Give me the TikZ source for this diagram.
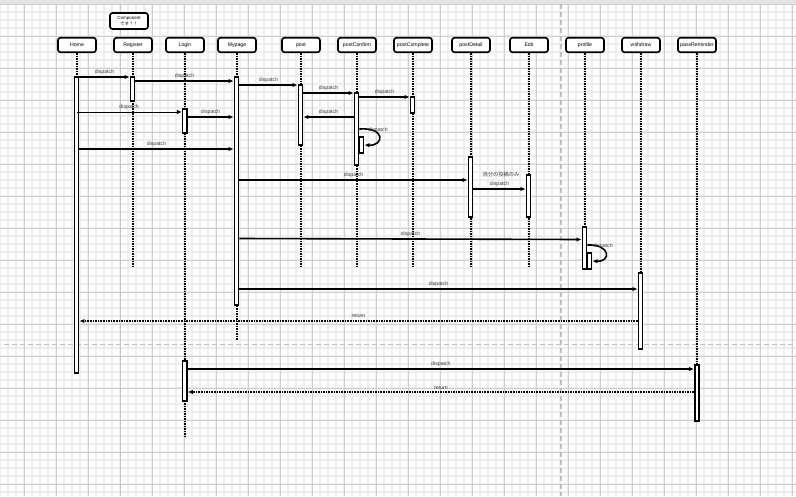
\documentclass[tikz,border=0pt]{standalone}
\usepackage{fontspec}
\setmainfont{Liberation Sans}
\newfontfamily\cjk{Noto Sans CJK JP}
\usetikzlibrary{arrows.meta}
\definecolor{minorgrid}{HTML}{EEEEEE}
\definecolor{majorgrid}{HTML}{CFCFCF}
\definecolor{sepgray}{HTML}{C0C0C0}
\definecolor{topbar}{HTML}{E4E4E4}
\begin{document}
\begin{tikzpicture}[x=1pt,y=-1pt,
  hdr/.style={draw, line width=1.6pt, rounded corners=2.5pt, fill=white, minimum width=38pt, minimum height=14.5pt, inner sep=0pt, font=\fontsize{5.2}{6}\selectfont},
  act/.style={draw, line width=1.5pt, fill=white, minimum width=4.4pt, inner sep=0pt},
  life/.style={line width=1.5pt, dash pattern=on 1.5pt off 1pt},
  msg/.style={line width=1.6pt, -{Latex[length=5pt,width=4.5pt]}},
  thinmsg/.style={line width=1pt, -{Latex[length=5pt,width=4.5pt]}},
  ret/.style={line width=1.4pt, dash pattern=on 1.6pt off 1pt, -{Latex[length=5pt,width=4.5pt]}},
  lbl/.style={font=\fontsize{5.2}{6}\selectfont, text=black!78, inner sep=0pt},
  sepline/.style={draw=sepgray, line width=1.7pt, dash pattern=on 5pt off 3pt}
]
\useasboundingbox (0,0) rectangle (796,496);
\fill[white] (0,0) rectangle (796,496);
% grid
\foreach \x in {0,8,...,792} \draw[minorgrid, line width=1.3pt] (\x,0) -- (\x,496);
\foreach \y in {4,12,...,492} \draw[minorgrid, line width=1.3pt] (0,\y) -- (796,\y);
\foreach \x in {24,56,...,792} \draw[majorgrid, line width=0.9pt] (\x,0) -- (\x,496);
\foreach \y in {4,36,...,484} \draw[majorgrid, line width=0.9pt] (0,\y) -- (796,\y);
\fill[topbar] (0,0) rectangle (796,3.5);
% separators
\draw[sepline] (120.5,3.5) -- (120.5,496);
\draw[sepline] (560.7,3.5) -- (560.7,496);
\draw[sepline] (4,344.5) -- (796,344.5);

% headers
\node[hdr, minimum height=16pt, font=\fontsize{4.5}{5.2}\selectfont, align=center] (hComp) at (129,21) {Component\\{\cjk です！！}};
\node[hdr] (hHome) at (77,45) {Home};
\node[hdr] (hReg) at (133,45) {Register};
\node[hdr] (hLogin) at (185,45) {Login};
\node[hdr] (hMy) at (237,45) {Mypage};
\node[hdr] (hPost) at (301,45) {post};
\node[hdr] (hPC) at (357,45) {postConfirm};
\node[hdr] (hPComp) at (413,45) {postComplete};
\node[hdr] (hPD) at (471,45) {postDetail};
\node[hdr] (hEdit) at (529,45) {Edit};
\node[hdr] (hProf) at (585,45) {profile};
\node[hdr] (hWd) at (641,45) {withdraw};
\node[hdr] (hPR) at (697,45) {passReminder};

% lifeline end points
\coordinate (eReg) at (133,268);
\coordinate (eLogin) at (185,436);
\coordinate (eMy) at (237,340);
\coordinate (ePost) at (301,268);
\coordinate (ePC) at (357,268);
\coordinate (ePComp) at (413,268);
\coordinate (ePD) at (471,268);
\coordinate (eEdit) at (529,268);
\coordinate (eProf) at (585,268);

% lifelines
\draw[life] (hHome.south) -- (77,80);
\draw[life] (hReg.south) -- (eReg);
\draw[life] (hLogin.south) -- (eLogin);
\draw[life] (hMy.south) -- (eMy);
\draw[life] (hPost.south) -- (ePost);
\draw[life] (hPC.south) -- (ePC);
\draw[life] (hPComp.south) -- (ePComp);
\draw[life] (hPD.south) -- (ePD);
\draw[life] (hEdit.south) -- (eEdit);
\draw[life] (hProf.south) -- (eProf);
\draw[life] (hWd.south) -- (641,276);
\draw[life] (hPR.south) -- (697,368);

% activations
\node[act, minimum height=296pt] (aHome) at (76.5,225) {};
\node[act, minimum height=24pt] (aReg) at (132.5,89) {};
\node[act, minimum height=24pt] (aLogin) at (184.8,121) {};
\node[act, minimum height=40pt] (aLogin2) at (184.8,381) {};
\node[act, minimum height=228pt] (aMy) at (236.5,191) {};
\node[act, minimum height=60pt] (aPost) at (300.5,115) {};
\node[act, minimum height=72pt] (aPC) at (356.5,129) {};
\node[act, minimum height=16pt] (aPC2) at (361.5,145) {};
\node[act, minimum height=16pt] (aPComp) at (412.5,105) {};
\node[act, minimum height=60pt] (aPD) at (470.5,187) {};
\node[act, minimum height=42pt] (aEdit) at (528.5,196) {};
\node[act, minimum height=42pt] (aProf) at (584.5,248) {};
\node[act, minimum height=16pt] (aProf2) at (589.5,261) {};
\node[act, minimum height=76pt] (aWd) at (640.5,311) {};
\node[act, minimum height=56pt] (aPR) at (697,393) {};

% messages
\draw[msg] (aHome.east |- 0,77) -- (aReg.west |- 0,77) node[lbl, midway, yshift=4.8pt] {dispatch};
\draw[msg] (aReg.east |- 0,81) -- (aMy.west |- 0,81) node[lbl, midway, yshift=4.8pt] {dispatch};
\draw[msg] (aMy.east |- 0,85) -- (aPost.west |- 0,85) node[lbl, midway, yshift=4.8pt] {dispatch};
\draw[msg] (aPost.east |- 0,93) -- (aPC.west |- 0,93) node[lbl, midway, yshift=4.8pt] {dispatch};
\draw[msg] (aPC.east |- 0,97) -- (aPComp.west |- 0,97) node[lbl, midway, yshift=4.8pt] {dispatch};
\draw[thinmsg] (aHome.center |- 0,112) -- (aLogin.west |- 0,112) node[lbl, midway, yshift=4.5pt] {dispatch};
\draw[msg] (aLogin.east |- 0,117) -- (aMy.west |- 0,117) node[lbl, midway, yshift=4.8pt] {dispatch};
\draw[msg] (aPC.west |- 0,117) -- (aPost.east |- 0,117) node[lbl, midway, yshift=4.8pt] {dispatch};
\draw[msg] (aPC.east |- 0,129) .. controls (386,127) and (384,146) .. (aPC2.east |- 0,145);
\node[lbl] (lPC) at (378,130.5) {dispatch};
\draw[msg] (aHome.east |- 0,149) -- (aMy.west |- 0,149) node[lbl, midway, yshift=4.8pt] {dispatch};
\draw[msg] (aMy.east |- 0,180) -- (aPD.west |- 0,180) node[lbl, midway, yshift=4.8pt] {dispatch};
\draw[msg] (aPD.east |- 0,189) -- (aEdit.west |- 0,189) node[lbl, midway, yshift=5pt] {dispatch};
\node[lbl] (lJP) at (501,174.3) {\cjk 自分の投稿のみ};
\draw[msg] (aMy.east |- 0,238.5) -- (aProf.west |- 0,239.5) node[lbl, midway, yshift=4.8pt] {dispatch};
\draw[msg] (aProf.east |- 0,245) .. controls (611,244) and (611,262) .. (aProf2.east |- 0,261);
\node[lbl] (lProf) at (603,246.5) {dispatch};
\draw[msg] (aMy.east |- 0,289) -- (aWd.west |- 0,289) node[lbl, midway, yshift=4.8pt] {dispatch};
\draw[ret] (aWd.west |- 0,321) -- (aHome.east |- 0,321) node[lbl, midway, yshift=4.8pt] {return};
\draw[msg] (aLogin2.east |- 0,369) -- (aPR.west |- 0,369) node[lbl, midway, yshift=4.8pt] {dispatch};
\draw[ret] (aPR.west |- 0,392) -- (aLogin2.east |- 0,392) node[lbl, midway, yshift=4.2pt] {return};
\end{tikzpicture}
\end{document}
